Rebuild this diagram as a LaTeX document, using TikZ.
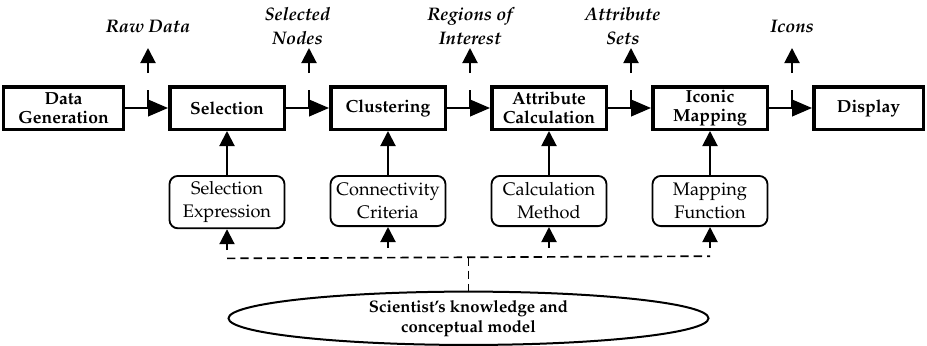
\documentclass[tikz,border=0pt]{standalone}
\usepackage[T1]{fontenc}
\usepackage{mathpazo}
\usetikzlibrary{arrows.meta,positioning,calc,shapes.geometric}

\begin{document}
\begin{tikzpicture}[>={Triangle[length=9pt,width=9pt]},
  node distance=26.4pt and 25.8pt,
  every node/.style = {font=\fontsize{10.5}{11.3}\selectfont\bfseries},
  stage/.style  = {rectangle, draw, line width=2.1pt,
                   minimum height=25.5pt, minimum width=68.7pt,
                   align=center, inner sep=0.5pt},
  param/.style  = {rectangle, draw, line width=1.1pt, rounded corners=5pt,
                   minimum height=30.1pt, minimum width=69pt, align=center,
                   font=\fontsize{10.9}{13.8}\selectfont},
  outlbl/.style = {align=center,
                   font=\fontsize{10.9}{14.4}\selectfont\bfseries\itshape},
  know/.style   = {ellipse, draw, line width=1.2pt, minimum width=288pt,
                   minimum height=32pt, inner sep=0pt, align=center,
                   font=\fontsize{10}{12}\selectfont\bfseries},
  arrow/.style  = {->, line width=1.2pt},
  flow/.style   = {-{Triangle[length=12pt,width=10pt]}, line width=1.2pt},
  tick/.style   = {line width=1.2pt},
  guide/.style  = {line width=1pt, dash pattern=on 5pt off 3pt},
]
  \useasboundingbox (-38.1pt,64.8pt) rectangle (518.1pt,-142.2pt);

  % pipeline stages
  \node[stage, minimum width=71.7pt] (gen) {Data\\Generation};
  \node[stage, right=of gen] (sel) {Selection};
  \node[stage, right=of sel] (clu) {Clustering};
  \node[stage, right=of clu] (attr) {Attribute\\Calculation};
  \node[stage, right=of attr] (icon) {Iconic\\Mapping};
  \node[stage, right=of icon, minimum width=65.7pt] (disp) {Display};

  \draw[flow] (gen) -- (sel);
  \draw[flow] (sel) -- (clu);
  \draw[flow] (clu) -- (attr);
  \draw[flow] (attr) -- (icon);
  \draw[flow] (icon) -- (disp);

  % intermediate products tapped off each connector
  \coordinate[left=12pt of sel] (tap1);
  \coordinate[left=12pt of clu] (tap2);
  \coordinate[left=12pt of attr] (tap3);
  \coordinate[left=12pt of icon] (tap4);
  \coordinate[left=12pt of disp] (tap5);

  \draw[tick] (tap1) -- ++(0,10.8pt);
  \draw[arrow] ([yshift=21pt]tap1) -- ++(0,15pt);
  \node[outlbl] (out1) at ([yshift=49pt]tap1) {Raw Data};

  \draw[tick] (tap2) -- ++(0,10.8pt);
  \draw[arrow] ([yshift=21pt]tap2) -- ++(0,15pt);
  \node[outlbl] (out2) at ([xshift=-7pt,yshift=49pt]tap2) {Selected\\Nodes};

  \draw[tick] (tap3) -- ++(0,10.8pt);
  \draw[arrow] ([yshift=21pt]tap3) -- ++(0,15pt);
  \node[outlbl] (out3) at ([yshift=49pt]tap3) {Regions of\\Interest};

  \draw[tick] (tap4) -- ++(0,10.8pt);
  \draw[arrow] ([yshift=21pt]tap4) -- ++(0,15pt);
  \node[outlbl] (out4) at ([xshift=-5pt,yshift=49pt]tap4) {Attribute\\Sets};

  \draw[tick] (tap5) -- ++(0,10.8pt);
  \draw[arrow] ([yshift=21pt]tap5) -- ++(0,15pt);
  \node[outlbl] (out5) at ([yshift=49pt]tap5) {Icons};

  % parameters of each stage
  \node[param, below=of sel] (selexp) {Selection\\Expression};
  \node[param, below=of clu] (conn) {Connectivity\\Criteria};
  \node[param, below=of attr] (calc) {Calculation\\Method};
  \node[param, below=of icon] (mapf) {Mapping\\Function};

  \draw[arrow] (selexp) -- (sel);
  \draw[arrow] (conn) -- (clu);
  \draw[arrow] (calc) -- (attr);
  \draw[arrow] (mapf) -- (icon);

  \coordinate[below=17.5pt of selexp] (k1);
  \coordinate[below=17.5pt of conn] (k2);
  \coordinate[below=17.5pt of calc] (k3);
  \coordinate[below=17.5pt of mapf] (k4);
  \coordinate (kmid) at ($(k1)!0.5!(k4)$);

  \draw[arrow] ([yshift=5pt]k1) -- (selexp);
  \draw[arrow] ([yshift=5pt]k2) -- (conn);
  \draw[arrow] ([yshift=5pt]k3) -- (calc);
  \draw[arrow] ([yshift=5pt]k4) -- (mapf);

  % the scientist feeds all parameters
  \node[know, below=20pt of kmid] (sci)
    {Scientist's knowledge and\\conceptual model};
  \draw[guide] (k1) -- (k4);
  \draw[guide] (kmid) -- (sci);
\end{tikzpicture}
\end{document}
